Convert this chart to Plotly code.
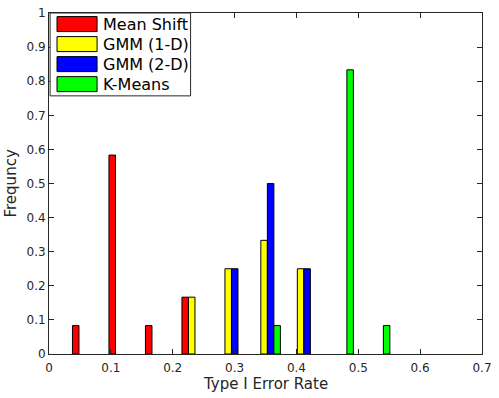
import plotly.graph_objects as go

# bin centres (Type I error rate) and relative frequencies per method
bin_centers = [0.059, 0.118, 0.177, 0.236, 0.295, 0.353, 0.412, 0.471, 0.530]
mean_shift = [0.0833, 0.5833, 0.0833, 0.1667, None, None, None, None, None]
gmm_1d = [None, None, None, 0.1667, 0.25, 0.3333, 0.25, None, None]
gmm_2d = [None, None, None, None, 0.25, 0.5, 0.25, None, None]
k_means = [None, None, None, None, None, 0.0833, None, 0.8333, 0.0833]

series_names = ['Mean Shift', 'GMM (1-D)', 'GMM (2-D)', 'K-Means']
series_colors = ['#ff0000', '#ffff00', '#0000ff', '#00ff00']
series_values = [mean_shift, gmm_1d, gmm_2d, k_means]

axis_color = '#262626'
font_family = 'DejaVu Sans'

fig = go.Figure()
for name, color, values in zip(series_names, series_colors, series_values):
	fig.add_trace(go.Bar(
		x=bin_centers,
		y=values,
		name=name,
		marker=dict(color=color, line=dict(color='black', width=1)),
		showlegend=False
	))

# MATLAB-style legend box drawn in paper coordinates
left, right, top = 0.0025, 0.327, 1.0
row_h = 0.0587
fig.add_shape(type='rect', xref='paper', yref='paper',
	x0=left, x1=right, y0=top - 0.243, y1=top,
	line=dict(color=axis_color, width=1), fillcolor='white', layer='above')
for i, (name, color) in enumerate(zip(series_names, series_colors)):
	y_mid = top - 0.0325 - i * row_h
	fig.add_shape(type='rect', xref='paper', yref='paper',
		x0=0.0185, x1=0.111, y0=y_mid - 0.022, y1=y_mid + 0.022,
		line=dict(color='black', width=1), fillcolor=color, layer='above')
	fig.add_annotation(xref='paper', yref='paper', x=0.119, y=y_mid,
		text=name, showarrow=False, xanchor='left', yanchor='middle',
		font=dict(family=font_family, size=16, color='black'))

# axis titles
fig.add_annotation(xref='paper', yref='paper', x=0.5, y=0, yshift=-30,
	text='Type I Error Rate', showarrow=False, xanchor='center', yanchor='middle',
	font=dict(family=font_family, size=15, color=axis_color))
fig.add_annotation(xref='paper', yref='paper', x=0, y=0.5, xshift=-39,
	text='Frequncy', textangle=-90, showarrow=False, xanchor='center', yanchor='middle',
	font=dict(family=font_family, size=15, color=axis_color))

fig.update_layout(
	width=499, height=398,
	margin=dict(l=49, r=17, t=13, b=44),
	paper_bgcolor='white', plot_bgcolor='white',
	barmode='group', bargap=0.273, bargroupgap=0,
	font=dict(family=font_family, size=12, color=axis_color),
	xaxis=dict(
		automargin=False,
		range=[0, 0.7], tickmode='array',
		tickvals=[0, 0.1, 0.2, 0.3, 0.4, 0.5, 0.6, 0.7],
		ticktext=['0', '0.1', '0.2', '0.3', '0.4', '0.5', '0.6', '0.7'],
		ticks='inside', ticklen=5, tickcolor=axis_color, ticklabelstandoff=3,
		showline=True, linecolor=axis_color, linewidth=1, mirror='ticks',
		showgrid=False, zeroline=False
	),
	yaxis=dict(
		automargin=False,
		range=[0, 1], tickmode='array',
		tickvals=[0, 0.1, 0.2, 0.3, 0.4, 0.5, 0.6, 0.7, 0.8, 0.9, 1],
		ticktext=['0', '0.1', '0.2', '0.3', '0.4', '0.5', '0.6', '0.7', '0.8', '0.9', '1'],
		ticks='inside', ticklen=5, tickcolor=axis_color,
		showline=True, linecolor=axis_color, linewidth=1, mirror='ticks',
		showgrid=False, zeroline=False
	)
)

# drop the browser's default 8px body margin so the figure fills the window
fig.write_html("out.html", config={'displayModeBar': False},
	post_script="document.body.style.margin = '0px';")
